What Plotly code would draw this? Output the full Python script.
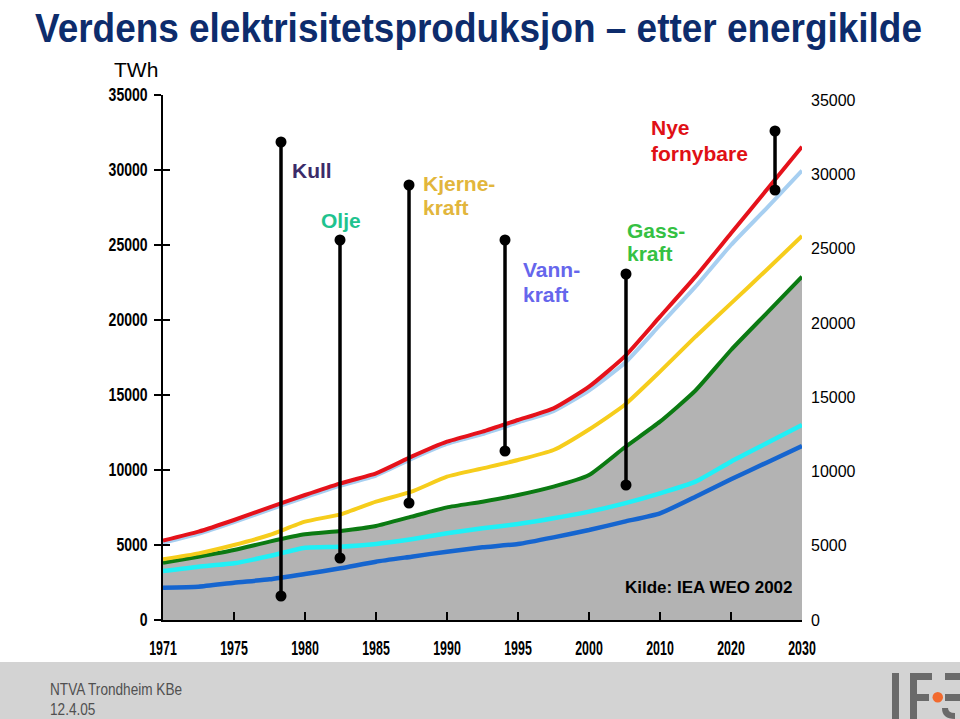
import plotly.graph_objects as go

# ---------------- data ----------------
years = ["1971", "1975", "1980", "1985", "1990", "1995", "2000", "2010", "2020", "2030"]
# sample positions along the category axis (half category steps)
pos = [i * 0.5 for i in range(19)]

# cumulative production (TWh)
kull = [2156, 2222, 2489, 2711, 3067, 3444, 3889, 4222, 4556, 4844,
        5067, 5511, 6000, 6556, 7111, 8222, 9378, 10489, 11600]
kull_olje = [3267, 3556, 3778, 4267, 4822, 4889, 5067, 5378, 5778, 6111,
             6400, 6778, 7222, 7778, 8444, 9222, 10556, 11778, 13000]
pluss_gass = [3822, 4222, 4667, 5222, 5711, 5933, 6267, 6889, 7511, 7889,
              8333, 8889, 9667, 11500, 13222, 15300, 18000, 20444, 22889]
pluss_kjerne = [4044, 4444, 5000, 5667, 6556, 7044, 7889, 8556, 9556, 10111,
                10667, 11333, 12700, 14333, 16556, 18889, 21111, 23333, 25600]
pluss_vann = [5140, 5740, 6520, 7360, 8180, 8960, 9630, 10740, 11740, 12400,
              13170, 13930, 15300, 17111, 19667, 22222, 25000, 27444, 29956]
pluss_nye = [5289, 5889, 6667, 7511, 8333, 9111, 9778, 10889, 11889, 12556,
             13333, 14111, 15556, 17556, 20222, 22889, 25778, 28667, 31556]

# label pointers: (category position, top TWh, bottom TWh)
pointer_pos = [1.662, 2.493, 3.465, 4.817, 6.521, 8.620]
pointer_top = [31867, 25333, 29000, 25333, 23067, 32600]
pointer_bottom = [1600, 4133, 7800, 11267, 9000, 28667]

yticks = [0, 5000, 10000, 15000, 20000, 25000, 30000, 35000]
ytick_text = [str(v) for v in yticks]

# ---------------- figure ----------------
W, H = 960, 719
L, R, T, B = 163, 802, 95, 620
ARIAL = "Liberation Sans, Arial, sans-serif"


def px(X):
    return (X - L) / (R - L)


def py(Y):
    return (B - Y) / (B - T)


fig = go.Figure()

# gray area under the gas line
fig.add_trace(go.Scatter(x=pos, y=pluss_gass, mode="lines", line=dict(width=0, shape="spline", smoothing=0.5),
                         fill="tozeroy", fillcolor="#b3b3b3", hoverinfo="skip", showlegend=False))

series = [
    (kull, "#1565cf", 4.5),
    (kull_olje, "#1ff0f6", 4.5),
    (pluss_gass, "#0b7a12", 4),
    (pluss_kjerne, "#f6cd1c", 4),
    (pluss_vann, "#a7cff1", 4),
    (pluss_nye, "#e5121b", 4),
]
for vals, col, w in series:
    fig.add_trace(go.Scatter(x=pos, y=vals, mode="lines",
                             line=dict(color=col, width=w, shape="spline", smoothing=0.5),
                             showlegend=False))

for xp, yt, yb in zip(pointer_pos, pointer_top, pointer_bottom):
    fig.add_trace(go.Scatter(x=[xp, xp], y=[yt, yb], mode="lines+markers",
                             line=dict(color="black", width=3.5),
                             marker=dict(color="black", size=11),
                             showlegend=False))

# helper traces for the extra axes
fig.add_trace(go.Scatter(x=[0], y=[0], yaxis="y2", mode="markers", marker=dict(opacity=0), showlegend=False, hoverinfo="skip"))
fig.add_trace(go.Scatter(x=[0], y=[0], yaxis="y3", mode="markers", marker=dict(opacity=0), showlegend=False, hoverinfo="skip"))

fig.update_layout(
    width=W, height=H,
    margin=dict(l=L, r=W - R, t=T, b=H - B),
    paper_bgcolor="white", plot_bgcolor="white",
    showlegend=False,
    title=dict(text="Verdens elektrisitetsproduksjon – etter energikilde",
               font=dict(family=ARIAL, size=40, color="#0d2c6c", weight="bold"),
               x=478.5 / W, xanchor="center", xref="container",
               y=1 - 28 / H, yanchor="middle"),
    xaxis=dict(range=[0, 9], tickmode="array", tickvals=list(range(len(years))), ticktext=years,
               showgrid=False, zeroline=False, showline=True, linecolor="black", linewidth=2,
               ticks="inside", ticklen=8, tickwidth=1.5, tickcolor="black",
               tickfont=dict(family=ARIAL, size=20, color="black", weight="bold"),
               ticklabelstandoff=9),
    yaxis=dict(range=[0, 35000], tickmode="array", tickvals=yticks, ticktext=ytick_text,
               showgrid=False, zeroline=False,
               showline=True, linecolor="black", linewidth=1.5,
               ticks="outside", ticklen=7, tickwidth=1.5, tickcolor="black",
               tickfont=dict(family=ARIAL, size=18, color="black", weight="bold"),
               ticklabelstandoff=3),
    yaxis2=dict(range=[0, 35350], tickmode="array", tickvals=yticks, ticktext=ytick_text,
                overlaying="y", side="right", anchor="x",
                showgrid=False, zeroline=False, showline=False, ticks="",
                tickfont=dict(family=ARIAL, size=16, color="black"), ticklabelstandoff=8),
    yaxis3=dict(range=[0, 35000], tickvals=yticks, overlaying="y", side="left", anchor="x",
                showgrid=False, zeroline=False, showline=False, ticks="inside", ticklen=7,
                tickwidth=1.5, tickcolor="black", showticklabels=False),
)

ann = []


def label(text, X, Y, color, size=21, bold=True, xanchor="left"):
    ann.append(dict(text=text, x=px(X), y=py(Y), xref="paper", yref="paper",
                    xanchor=xanchor, yanchor="middle", align="left", showarrow=False,
                    font=dict(family=ARIAL, size=size, color=color, weight="bold" if bold else "normal")))


label("Kull", 290, 170, "#3b2b69")
label("Olje", 319, 220, "#1fc38f")
label("Kjerne-", 421, 183, "#e2b63c")
label("kraft", 421, 207, "#e2b63c")
label("Vann-", 521, 269, "#6666ec")
label("kraft", 521, 294, "#6666ec")
label("Gass-", 625, 230, "#35c143")
label("kraft", 625, 254, "#35c143")
label("Nye", 649, 128, "#e01015")
label("fornybare", 649, 153, "#e01015")
label("Kilde: IEA WEO 2002", 623, 587, "black", size=17)
label("TWh", 112, 70, "black", size=21, bold=False)
label("NTVA Trondheim KBe", 48, 689, "#505050", size=16, bold=False)
label("12.4.05", 48, 709, "#505050", size=16, bold=False)
fig.update_layout(annotations=ann)

shapes = []
# footer band
shapes.append(dict(type="rect", xref="paper", yref="paper", x0=px(0), x1=px(W), y0=py(662), y1=py(H + 5),
                   fillcolor="#d3d3d3", line=dict(width=0), layer="below"))
# IFE logo (decoration)
logo_col = "#6a6a6a"
for X0, Y0, X1, Y1 in [(892, 673, 899, 719), (910, 673, 917, 719), (910, 673, 932, 680),
                       (910, 694, 929, 701), (945, 673, 960, 680), (945, 694, 960, 701)]:
    shapes.append(dict(type="rect", xref="paper", yref="paper", x0=px(X0), x1=px(X1), y0=py(Y1), y1=py(Y0),
                       fillcolor=logo_col, line=dict(width=0)))
shapes.append(dict(type="path", xref="paper", yref="paper",
                   path=f"M {px(942)},{py(708)} Q {px(942)},{py(719)} {px(955)},{py(719)} L {px(955)},{py(713)} Q {px(948)},{py(713)} {px(948)},{py(708)} Z",
                   fillcolor=logo_col, line=dict(width=0)))
shapes.append(dict(type="circle", xref="paper", yref="paper", x0=px(932.5), x1=px(943), y0=py(702.5), y1=py(692),
                   fillcolor="#f26a2e", line=dict(width=0)))
fig.update_layout(shapes=shapes)

# remove page margin and give narrow-font look to texts set in a condensed face
post = """
document.body.style.margin='0';
var gd=document.getElementById('{plot_id}');
function squeeze(el,f,target){
  if(!el) return;
  el.removeAttribute('textLength');
  var w=el.getComputedTextLength(); if(!w) return;
  el.setAttribute('textLength', target ? target : w*f);
  el.setAttribute('lengthAdjust','spacingAndGlyphs');
}
function scaleTitle(){
  var t=gd.querySelector('.gtitle'); if(!t) return;
  t.style.transform='none';
  var w=t.getComputedTextLength(); if(!w) return;
  var k=887/w;
  t.style.transformBox='fill-box';
  t.style.transformOrigin='50% 50%';
  t.style.transform='scaleX('+k+')';
}
function fixText(){
  scaleTitle();
  gd.querySelectorAll('.xtick text').forEach(function(e){squeeze(e,0.62);});
  gd.querySelectorAll('.ytick text').forEach(function(e){squeeze(e,0.78);});
  gd.querySelectorAll('.annotation-text').forEach(function(e){
    var s=e.textContent;
    if(s.indexOf('NTVA')===0||s.indexOf('12.4.05')===0){squeeze(e,0.85);}
  });
}
fixText();
if(gd.on){gd.on('plotly_afterplot',fixText);}
"""

fig.write_html("out.html", post_script=post, config={"displayModeBar": False})
